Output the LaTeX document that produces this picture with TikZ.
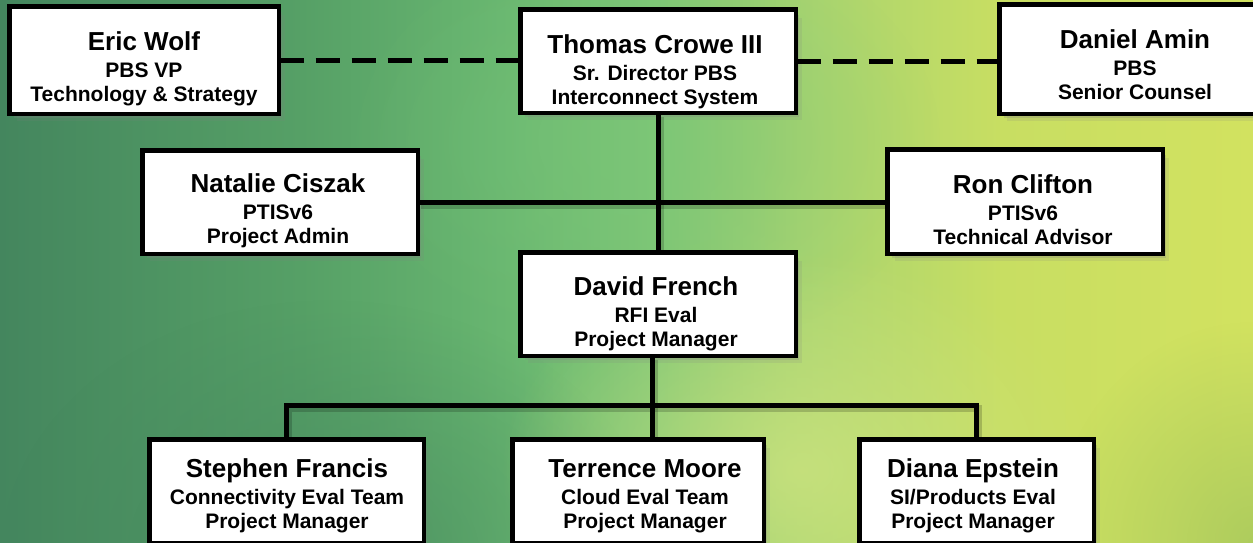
\documentclass[tikz,border=0pt]{standalone}
\usepackage{fontspec}
\setmainfont{Liberation Sans}
\usetikzlibrary{fadings,shadows,calc}
\definecolor{bgA}{RGB}{68,134,94}
\definecolor{bgB}{RGB}{86,160,102}
\definecolor{bgC}{RGB}{104,182,112}
\definecolor{bgD}{RGB}{126,198,118}
\definecolor{bgE}{RGB}{168,212,112}
\definecolor{bgF}{RGB}{200,222,98}
\definecolor{bgG}{RGB}{210,226,96}
\definecolor{hlBright}{RGB}{206,228,128}
\definecolor{hlDark}{RGB}{68,134,94}
\definecolor{hlRight}{RGB}{150,190,92}
\definecolor{hlTop}{RGB}{122,198,120}
\pgfdeclarehorizontalshading{bgshade}{100bp}{color(0bp)=(bgA); color(25bp)=(bgA); color(37bp)=(bgB); color(45bp)=(bgC); color(51bp)=(bgD); color(57bp)=(bgE); color(65bp)=(bgF); color(75bp)=(bgG); color(100bp)=(bgG)}
\tikzfading[name=radfade, inner color=transparent!0, outer color=transparent!100]
\newcommand\nm[1]{{\fontsize{26}{28}\selectfont #1}}
\begin{document}
\begin{tikzpicture}[x=1pt,y=-1pt,
  box/.style={draw=black, line width=3pt, fill=white, rectangle, inner sep=0pt,
    drop shadow={opacity=0.15, shadow xshift=7pt, shadow yshift=-8pt},
    drop shadow={opacity=0.25, shadow xshift=4pt, shadow yshift=-5pt}},
  txt/.style={anchor=base, align=center, font=\bfseries\fontsize{21}{24}\selectfont, inner sep=0pt},
  conn/.style={line width=5pt, black},
  dashconn/.style={line width=5pt, black, dash pattern=on 24pt off 12pt},
  connshadow/.style={line width=7pt, black, opacity=0.18, transform canvas={shift={(2pt,-3pt)}}},
]
\useasboundingbox (0,0) rectangle (1253,542);
\clip (0,0) rectangle (1253,542);
% background
\shade[shading=bgshade] (0,0) rectangle (1253,542);
\fill[hlTop, path fading=radfade, fill opacity=0.5] (640,140) ellipse (300 and 220);
\fill[hlDark, path fading=radfade, fill opacity=0.65] (330,560) ellipse (330 and 260);
\fill[hlBright, path fading=radfade, fill opacity=0.75] (800,470) ellipse (300 and 220);
\fill[hlRight, path fading=radfade, fill opacity=0.6] (1253,542) ellipse (200 and 220);

% boxes
\node[box, minimum width=268pt, minimum height=106pt] (eric) at (144,60) {};
\node[box, minimum width=274pt, minimum height=102pt] (thomas) at (658,61) {};
\node[box, minimum width=270pt, minimum height=108pt] (daniel) at (1135,59) {};
\node[box, minimum width=274pt, minimum height=102pt] (natalie) at (280,202) {};
\node[box, minimum width=274pt, minimum height=103pt] (ron) at (1025,201.5) {};
\node[box, minimum width=274pt, minimum height=102pt] (david) at (658,304) {};
\node[box, minimum width=273pt, minimum height=102pt] (stephen) at (286.5,491) {};
\node[box, minimum width=250pt, minimum height=102pt] (terrence) at (638,491) {};
\node[box, minimum width=233pt, minimum height=102pt] (diana) at (976.5,491) {};

% connector shadows
\draw[connshadow] (thomas.south) -- (thomas.south |- david.north);
\draw[connshadow] (natalie.east) -- (natalie.east -| ron.west);
\draw[connshadow] ([xshift=-6pt]david.south) -- ([xshift=-6pt]david.south |- terrence.north);
\draw[connshadow] (stephen.north) -- ++(0,-33) -| (diana.north);

% connectors
\draw[dashconn] (eric.east) -- (eric.east -| thomas.west);
\draw[dashconn] (thomas.east) -- (thomas.east -| daniel.west);
\draw[conn] (thomas.south) -- (thomas.south |- david.north);
\draw[conn] (natalie.east) -- (natalie.east -| ron.west);
\draw[conn] ([xshift=-6pt]david.south) -- ([xshift=-6pt]david.south |- terrence.north);
\draw[conn] (stephen.north) -- ++(0,-33) -| (diana.north);

% box borders over connector ends
\foreach \n in {eric,thomas,daniel,natalie,ron,david,stephen,terrence,diana}{
  \draw[line width=3pt] (\n.north west) rectangle (\n.south east);
}

% texts (base anchor = baseline of last line)
\node[txt] (ericT) at (144,101) {\nm{Eric Wolf}\\[3pt]PBS VP\\Technology \& Strategy};
\node[txt] (thomasT) at (655,104) {\nm{Thomas Crowe III}\\[3pt]Sr. Director PBS\\Interconnect System};
\node[txt] (danielT) at (1135,99) {\nm{Daniel Amin}\\[3pt]PBS\\Senior Counsel};
\node[txt] (natalieT) at (278,243) {\nm{Natalie Ciszak}\\[3pt]PTISv6\\Project Admin};
\node[txt] (ronT) at (1023,244) {\nm{Ron Clifton}\\[3pt]PTISv6\\Technical Advisor};
\node[txt] (davidT) at (656,346) {\nm{David French}\\[3pt]RFI Eval\\Project Manager};
\node[txt] (stephenT) at (287,528) {\nm{Stephen Francis}\\[3pt]Connectivity Eval Team\\Project Manager};
\node[txt] (terrenceT) at (645,528) {\nm{Terrence Moore}\\[3pt]Cloud Eval Team\\Project Manager};
\node[txt] (dianaT) at (973,528) {\nm{Diana Epstein}\\[3pt]SI/Products Eval\\Project Manager};
\end{tikzpicture}
\end{document}
